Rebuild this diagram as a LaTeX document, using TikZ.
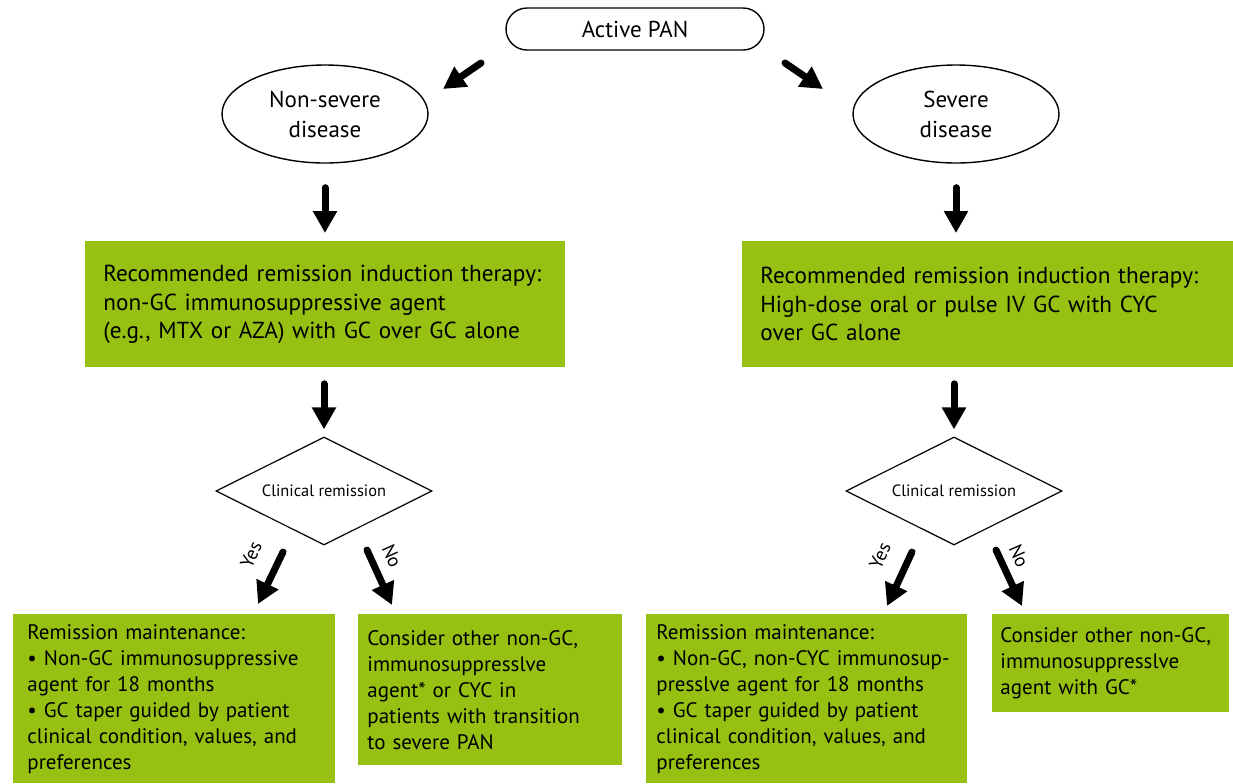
\documentclass[tikz,border=0pt]{standalone}
\usepackage{fontspec}
\setmainfont{PT Sans}
\usetikzlibrary{shapes.geometric,arrows.meta,positioning}
\definecolor{pangreen}{RGB}{150,193,18}
\tikzset{
  startbox/.style={draw,line width=0.7pt,rounded corners=10.5pt,minimum width=129pt,minimum height=21pt,font=\fontsize{11.5}{14}\selectfont},
  disease/.style={draw,ellipse,line width=0.7pt,minimum width=103pt,minimum height=49pt,align=center,font=\fontsize{11.5}{15}\selectfont},
  remission/.style={draw,diamond,aspect=2,line width=0.6pt,minimum width=108pt,minimum height=54pt,inner sep=0pt,font=\fontsize{8.2}{10}\selectfont},
  greenbox/.style={fill=pangreen,anchor=north west,align=left,inner ysep=0pt},
  topbox/.style={greenbox,font=\fontsize{11.6}{14.25}\selectfont,minimum height=63pt},
  lowbox/.style={greenbox,font=\fontsize{10.5}{13}\selectfont},
  bigarrow/.style={line width=3.5pt,line cap=round,-{Triangle[width=11.5pt,length=11pt]}},
  answer/.style={font=\fontsize{9.5}{11}\selectfont,inner sep=0pt}
}
\begin{document}
\begin{tikzpicture}[x=0.5pt,y=-0.5pt]
\useasboundingbox (0,0) rectangle (1233,783);
% start and disease class
\node[startbox] (pan) at (635,29) {Active PAN};
\node[disease] (nonsev) at (325,114) {Non-severe\\disease};
\node[disease] (sev) at (956,114) {Severe\\disease};
% induction therapy
\node[topbox,inner xsep=9pt,text width=222pt] (indL) at (85,241) {Recommended remission induction therapy:\\non-GC immunosuppressive agent\\(e.g., MTX or AZA) with GC over GC alone};
\node[topbox,inner xsep=9pt,text width=227.5pt] (indR) at (742,241) {Recommended remission induction therapy:\\High-dose oral or pulse IV GC with CYC\\over GC alone};
% remission check
\node[remission] (remL) at (324,491) {Clinical remission};
\node[remission] (remR) at (954,491) {Clinical remission};
% outcomes
\node[lowbox,inner xsep=7pt,text width=147pt,minimum height=84.5pt] (mainL) at (13,614) {Remission maintenance:\\\textbullet{} Non-GC immunosuppressive\\agent for 18 months\\\textbullet{} GC taper guided by patient\\clinical condition, values, and\\preferences};
\node[lowbox,inner xsep=4.5pt,text width=123pt,minimum height=75.5pt] (otherL) at (358,614) {Consider other non-GC,\\immunosuppresslve\\agent* or CYC in\\patients with transition\\to severe PAN};
\node[lowbox,inner xsep=5pt,text width=150.5pt,minimum height=84.5pt] (mainR) at (646,614) {Remission maintenance:\\\textbullet{} Non-GC, non-CYC immunosup-\\presslve agent for 18 months\\\textbullet{} GC taper guided by patient\\clinical condition, values, and\\preferences};
\node[lowbox,inner xsep=4pt,text width=110.5pt,minimum height=49pt] (otherR) at (992,614) {Consider other non-GC,\\immunosuppresslve\\agent with GC*};
% arrow ends
\coordinate (panL) at (481,63);
\coordinate (panLtip) at (443,89);
\coordinate (panR) at (785,63);
\coordinate (panRtip) at (823,89);
\coordinate (yesL) at (283,552);
\coordinate (yesLtip) at (258,604);
\coordinate (noL) at (367,550);
\coordinate (noLtip) at (392,605);
\coordinate (yesR) at (912,552);
\coordinate (yesRtip) at (887,606);
\coordinate (noR) at (996,550);
\coordinate (noRtip) at (1022,606);
% arrows
\draw[bigarrow] (panL) -- (panLtip);
\draw[bigarrow] (panR) -- (panRtip);
\draw[bigarrow,shorten <=12pt,shorten >=4pt] (nonsev.south) -- (nonsev.south |- indL.north);
\draw[bigarrow,shorten <=12pt,shorten >=4pt] (sev.south) -- (sev.south |- indR.north);
\draw[bigarrow,shorten <=8pt,shorten >=3.5pt] (indL.south -| remL.north) -- (remL.north);
\draw[bigarrow,shorten <=8pt,shorten >=3.5pt] (remR.north |- indR.south) -- (remR.north);
\draw[bigarrow] (yesL) -- (yesLtip);
\draw[bigarrow] (noL) -- (noLtip);
\draw[bigarrow] (yesR) -- (yesRtip);
\draw[bigarrow] (noR) -- (noRtip);
% answers
\node[answer,rotate=66] (yesLlab) at (251,555) {Yes};
\node[answer,rotate=-66] (noLlab) at (392,556) {No};
\node[answer,rotate=66] (yesRlab) at (880,556) {Yes};
\node[answer,rotate=-66] (noRlab) at (1019,556) {No};
\end{tikzpicture}
\end{document}
